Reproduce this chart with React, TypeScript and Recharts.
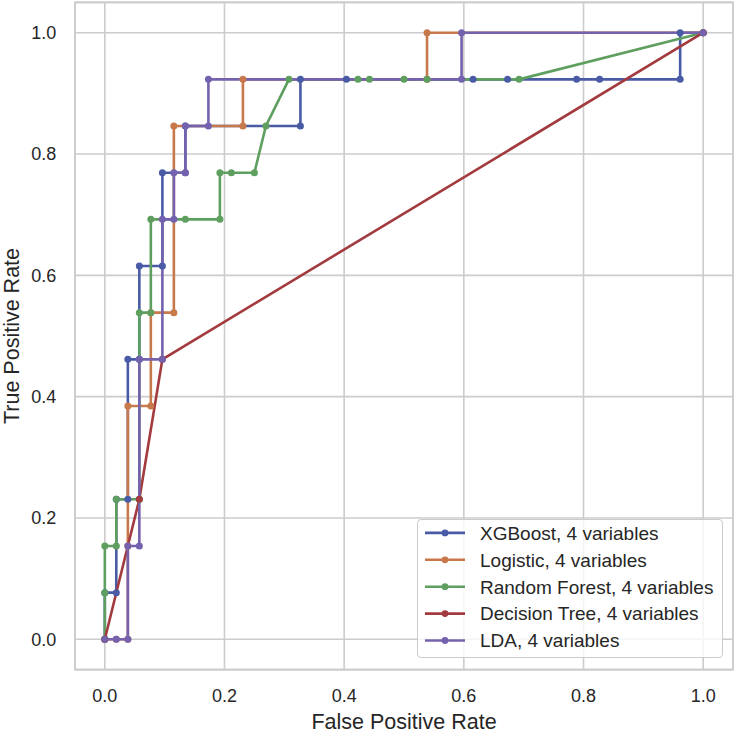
import React from "react";
import {
  LineChart,
  Line,
  XAxis,
  YAxis,
  CartesianGrid,
  ReferenceArea,
  Legend,
} from "recharts";

// ROC points (FPR steps of 1/52, TPR steps of 1/13)
const xgbFpr = [0, 0, 0.0192, 0.0192, 0.0385, 0.0385, 0.0577, 0.0577, 0.0962, 0.0962, 0.1346, 0.1346, 0.3269, 0.3269, 0.4038, 0.6154, 0.6731, 0.7885, 0.8269, 0.9615, 0.9615, 1];
const xgbTpr = [0, 0.0769, 0.0769, 0.2308, 0.2308, 0.4615, 0.4615, 0.6154, 0.6154, 0.7692, 0.7692, 0.8462, 0.8462, 0.9231, 0.9231, 0.9231, 0.9231, 0.9231, 0.9231, 0.9231, 1, 1];

const logFpr = [0, 0.0192, 0.0385, 0.0385, 0.0385, 0.0769, 0.0769, 0.1154, 0.1154, 0.2308, 0.2308, 0.5385, 0.5385, 1];
const logTpr = [0, 0, 0, 0.1538, 0.3846, 0.3846, 0.5385, 0.5385, 0.8462, 0.8462, 0.9231, 0.9231, 1, 1];

const rfFpr = [0, 0, 0, 0.0192, 0.0192, 0.0577, 0.0577, 0.0769, 0.0769, 0.1346, 0.1923, 0.1923, 0.2115, 0.25, 0.2692, 0.3077, 0.4231, 0.4423, 0.5, 0.5385, 0.6923, 1];
const rfTpr = [0, 0.0769, 0.1538, 0.1538, 0.2308, 0.2308, 0.5385, 0.5385, 0.6923, 0.6923, 0.6923, 0.7692, 0.7692, 0.7692, 0.8462, 0.9231, 0.9231, 0.9231, 0.9231, 0.9231, 0.9231, 1];

const dtFpr = [0, 0.0577, 0.0962, 1];
const dtTpr = [0, 0.2308, 0.4615, 1];

const ldaFpr = [0, 0.0192, 0.0385, 0.0385, 0.0577, 0.0577, 0.0962, 0.0962, 0.1154, 0.1154, 0.1346, 0.1346, 0.1731, 0.1731, 0.5962, 0.5962, 1];
const ldaTpr = [0, 0, 0, 0.1538, 0.1538, 0.4615, 0.4615, 0.6923, 0.6923, 0.7692, 0.7692, 0.8462, 0.8462, 0.9231, 0.9231, 1, 1];

const ticks = [0, 0.2, 0.4, 0.6, 0.8, 1];

const SERIES = [
  { name: "XGBoost, 4 variables", color: "#4a5ba6", fpr: xgbFpr, tpr: xgbTpr },
  { name: "Logistic, 4 variables", color: "#c8794b", fpr: logFpr, tpr: logTpr },
  { name: "Random Forest, 4 variables", color: "#5e9f5f", fpr: rfFpr, tpr: rfTpr },
  { name: "Decision Tree, 4 variables", color: "#a23a3e", fpr: dtFpr, tpr: dtTpr },
  { name: "LDA, 4 variables", color: "#7462ae", fpr: ldaFpr, tpr: ldaTpr },
];

const FONT = "'Liberation Sans', Arial, sans-serif";
const TEXT = "#262626";
const GRID = "#cccccc";

const W = 736;
const H = 732;
const MARGIN = { top: 2.4, right: 2.9, bottom: 2.4, left: 4.9 };
const PLOT_LEFT = 74.9;
const PLOT_BOTTOM = 669.6;
const PLOT_CX = (74.9 + 733.1) / 2;
const PLOT_CY = (2.4 + 669.6) / 2;

const XTick = ({ x, payload }: any) => (
  <text x={x} y={PLOT_BOTTOM + 32} textAnchor="middle" fill={TEXT} fontSize={18} fontFamily={FONT}>
    {Number(payload.value).toFixed(1)}
  </text>
);

const YTick = ({ y, payload }: any) => (
  <text x={PLOT_LEFT - 18.5} y={y + 6.4} textAnchor="end" fill={TEXT} fontSize={18} fontFamily={FONT}>
    {Number(payload.value).toFixed(1)}
  </text>
);

function LegendBox() {
  const rowH = 26.9;
  return (
    <div
      style={{
        width: 306,
        height: 139,
        boxSizing: "border-box",
        border: `1.3px solid ${GRID}`,
        borderRadius: 4,
        background: "rgba(255,255,255,0.8)",
        position: "relative",
      }}
    >
      <svg width={306} height={139} style={{ position: "absolute", left: -1.3, top: -1.3 }}>
        {SERIES.map((s, i) => {
          const base = 20.7 + i * rowH;
          const cy = base - 6.8;
          return (
            <g key={s.name}>
              <line x1={8} x2={48} y1={cy} y2={cy} stroke={s.color} strokeWidth={2.6} />
              <circle cx={28} cy={cy} r={3.4} fill={s.color} />
              <text x={63} y={base} fill={TEXT} fontSize={19} fontFamily={FONT}>
                {s.name}
              </text>
            </g>
          );
        })}
      </svg>
    </div>
  );
}

export default function App() {
  return (
    <div style={{ position: "absolute", left: 0, top: 0, background: "#fff" }}>
      <LineChart width={W} height={H} margin={MARGIN}>
        <CartesianGrid stroke={GRID} strokeWidth={1.6} />
        <ReferenceArea
          x1={-0.05}
          x2={1.05}
          y1={-0.05}
          y2={1.05}
          fill="none"
          stroke={GRID}
          strokeWidth={1.6}
          fillOpacity={0}
        />
        <XAxis
          type="number"
          dataKey="fpr"
          domain={[-0.05, 1.05]}
          ticks={ticks}
          height={60}
          axisLine={false}
          tickLine={false}
          tick={<XTick />}
          allowDuplicatedCategory={false}
          label={{
            content: () => (
              <text x={PLOT_CX} y={728.5} textAnchor="middle" fill={TEXT} fontSize={21.5} fontFamily={FONT}>
                False Positive Rate
              </text>
            ),
          }}
        />
        <YAxis
          type="number"
          dataKey="tpr"
          domain={[-0.05, 1.05]}
          ticks={ticks}
          width={70}
          axisLine={false}
          tickLine={false}
          tick={<YTick />}
          label={{
            content: () => (
              <text
                x={19}
                y={PLOT_CY}
                transform={`rotate(-90, 19, ${PLOT_CY})`}
                textAnchor="middle"
                fill={TEXT}
                fontSize={21.5}
                fontFamily={FONT}
              >
                True Positive Rate
              </text>
            ),
          }}
        />
        {SERIES.map((s) => (
          <Line
            key={s.name}
            name={s.name}
            type="linear"
            data={s.fpr.map((f, i) => ({ fpr: f, tpr: s.tpr[i] }))}
            dataKey="tpr"
            stroke={s.color}
            strokeWidth={2.6}
            dot={{ r: 3.5, fill: s.color, stroke: s.color, strokeWidth: 0 }}
            activeDot={false}
            isAnimationActive={false}
          />
        ))}
        <Legend
          layout="vertical"
          align="center"
          verticalAlign="middle"
          content={() => <LegendBox />}
          wrapperStyle={{ left: 417.3, top: 519.3, width: 306, height: 139 }}
        />
      </LineChart>
    </div>
  );
}
